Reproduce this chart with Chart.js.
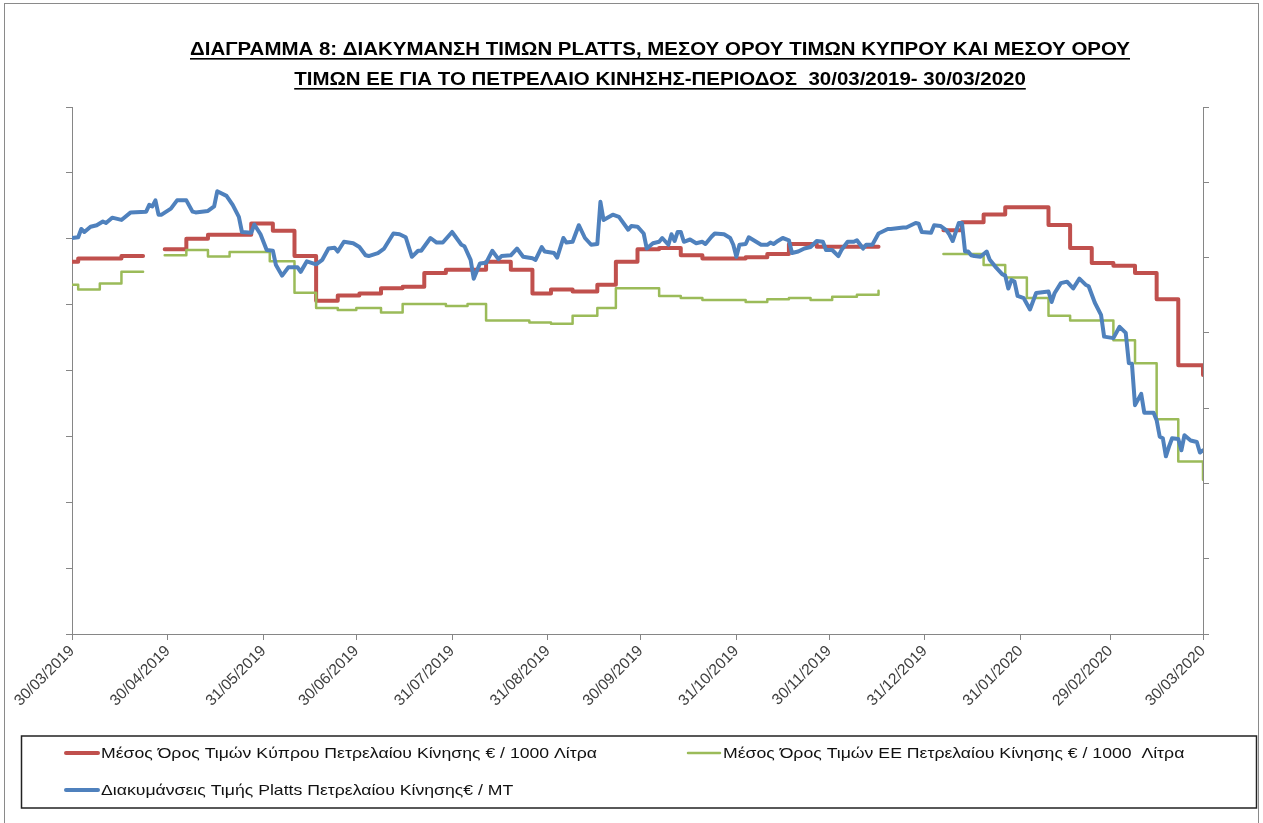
<!DOCTYPE html>
<html>
<head>
<meta charset="utf-8">
<script src="https://cdn.jsdelivr.net/npm/chart.js@4/dist/chart.umd.min.js"></script>
<style>
	html, body { margin: 0; padding: 0; background: #fff; }
	#wrap { width: 1263px; height: 823px; }
</style>
</head>
<body>
<div id="wrap"><canvas id="diagramma" width="1263" height="823"></canvas></div>
<script>
// Τίτλος και υπόμνημα
const titleLines = [
	"ΔΙΑΓΡΑΜΜΑ 8: ΔΙΑΚΥΜΑΝΣΗ ΤΙΜΩΝ PLATTS, ΜΕΣΟΥ ΟΡΟΥ ΤΙΜΩΝ ΚΥΠΡΟΥ ΚΑΙ ΜΕΣΟΥ ΟΡΟΥ",
	"ΤΙΜΩΝ ΕΕ ΓΙΑ ΤΟ ΠΕΤΡΕΛΑΙΟ ΚΙΝΗΣΗΣ-ΠΕΡΙΟΔΟΣ  30/03/2019- 30/03/2020"
];
const seriesLabels = [
	"Μέσος Όρος Τιμών Κύπρου Πετρελαίου Κίνησης € / 1000 Λίτρα",
	"Μέσος Όρος Τιμών ΕΕ Πετρελαίου Κίνησης € / 1000  Λίτρα",
	"Διακυμάνσεις Τιμής Platts Πετρελαίου Κίνησης€ / MT"
];

// Ετικέτες άξονα Χ (ημερομηνίες)
const tickLabels = ["30/03/2019", "30/04/2019", "31/05/2019", "30/06/2019", "31/07/2019", "31/08/2019",
	"30/09/2019", "31/10/2019", "30/11/2019", "31/12/2019", "31/01/2020", "29/02/2020", "30/03/2020"];

// Μέσος όρος Κύπρου (ημέρες από 30/03/2019, τιμή) - null = κενό
const cyprusDay = [0, 2, 16, 23, 24,
	30, 37, 44, 58, 65, 72, 79, 86, 93, 100, 107, 114, 121, 134, 142, 149, 155, 162, 170, 176,
	183, 190, 197, 204, 218, 225, 232, 241, 261, 262,
	282, 288, 295, 302, 316, 323, 330, 337, 344, 351, 358, 364, 366];
const cyprusValue = [565, 570, 574, 574, null,
	584, 600, 606, 623, 612, 574, 506, 514, 517, 525, 527, 548, 553, 565, 553, 517, 523, 520, 530, 565,
	584, 586, 575, 570, 572, 577, 592, 588, 588, null,
	613, 625, 637, 648, 621, 586, 563, 559, 548, 508, 408, 408, 393];

// Μέσος όρος ΕΕ
const euDay = [0, 2, 9, 16, 23, 24,
	30, 37, 44, 51, 64, 72, 79, 86, 92, 100, 107, 121, 128, 134, 148, 155, 162, 170, 176,
	190, 197, 204, 218, 225, 232, 239, 246, 254, 261, 262,
	282, 295, 302, 309, 316, 323, 337, 344, 351, 358, 364, 366];
const euValue = [530, 523, 532, 550, 550, null,
	575, 583, 573, 580, 566, 518, 495, 492, 495, 488, 501, 498, 501, 476, 473, 471, 483, 495, 525,
	513, 510, 507, 504, 508, 510, 507, 512, 515, 521, null,
	577, 560, 541, 510, 483, 476, 446, 411, 326, 262, 262, 234];

// Platts
const plattsDay = [
	0, 2, 3, 4, 6, 8, 10, 11, 13, 16,
	19, 24, 25, 26, 27, 28, 29, 32, 34, 37,
	39, 40, 44, 46, 47, 50, 52, 54, 55, 58,
	59, 61, 63, 65, 66, 68, 70, 73, 74, 76,
	79, 81, 83, 85, 86, 88, 91, 93, 95, 96,
	99, 101, 104, 106, 108, 110, 112, 113, 116, 118,
	120, 123, 126, 127, 129, 130, 132, 134, 136, 138,
	139, 142, 144, 146, 149, 150, 152, 153, 156, 157,
	159, 160, 162, 164, 166, 168, 170, 171, 172, 175,
	177, 180, 181, 183, 185, 186, 188, 190, 191, 193,
	194, 195, 196, 197, 198, 200, 202, 204, 205, 207,
	208, 211, 213, 214, 215, 216, 218, 219, 221, 223,
	225, 226, 227, 228, 230, 232, 233, 235, 237, 239,
	241, 243, 244, 246, 248, 249, 251, 253, 254, 256,
	257, 259, 261, 264, 265, 269, 270, 273, 274, 275,
	278, 279, 281, 283, 284, 285, 287, 288, 289, 290,
	291, 292, 294, 296, 297, 299, 301, 302, 303, 304,
	305, 306, 308, 310, 312, 316, 317, 318, 320, 322,
	324, 326, 328, 329, 331, 333, 334, 337, 339, 341,
	342, 343, 344, 346, 347, 350, 351, 352, 353, 354,
	355, 356, 358, 359, 360, 362, 364, 365, 366];
const plattsValue = [
	526, 527, 538, 534, 541, 543, 548, 546, 553, 550,
	560, 561, 570, 568, 576, 557, 557, 565, 576, 576,
	561, 560, 562, 568, 588, 582, 570, 554, 534, 533,
	544, 531, 510, 509, 490, 476, 487, 487, 481, 495,
	491, 497, 512, 513, 508, 521, 519, 514, 503, 502,
	506, 512, 532, 531, 527, 501, 509, 509, 526, 520,
	520, 534, 517, 515, 497, 472, 492, 493, 509, 498,
	502, 503, 512, 501, 499, 497, 514, 508, 506, 500,
	526, 520, 521, 543, 526, 517, 518, 574, 550, 557,
	554, 537, 542, 541, 532, 512, 519, 521, 526, 517,
	531, 522, 534, 534, 521, 524, 519, 521, 518, 528,
	532, 531, 526, 517, 501, 517, 518, 527, 522, 517,
	517, 520, 518, 521, 526, 523, 506, 508, 512, 514,
	522, 521, 510, 510, 502, 510, 521, 521, 523, 512,
	517, 517, 532, 538, 538, 540, 540, 546, 545, 534,
	533, 543, 542, 536, 530, 522, 546, 546, 508, 508,
	503, 502, 501, 508, 497, 487, 478, 476, 459, 470,
	468, 449, 446, 431, 453, 455, 441, 453, 466, 468,
	459, 472, 464, 462, 440, 424, 395, 393, 408, 400,
	360, 359, 304, 319, 294, 294, 284, 262, 260, 236,
	249, 260, 259, 244, 264, 257, 255, 241, 244];

const axisGrey = "#868686";

// μέρες από την αρχή της περιόδου
function dayOffset(label) {
	const [d, m, y] = label.split("/").map(Number);
	return Math.round((Date.UTC(y, m - 1, d) - Date.UTC(2019, 2, 30)) / 86400000);
}
const tickDays = tickLabels.map(dayOffset);

function toPoints(days, values) {
	return days.map((d, i) => ({ x: d, y: values[i] }));
}

// Σχεδίαση πλαισίου, τίτλου και υπομνήματος
const decorPlugin = {
	id: "decor",
	afterDraw(chart) {
		const ctx = chart.ctx;
		ctx.save();

		// εξωτερικό πλαίσιο
		ctx.strokeStyle = "#8a8a8a";
		ctx.lineWidth = 1;
		ctx.strokeRect(4.5, 3.5, 1254, 840);

		// τίτλος με υπογράμμιση
		ctx.fillStyle = "#000";
		ctx.font = 'bold 18px "Liberation Sans", Arial, sans-serif';
		ctx.textBaseline = "alphabetic";
		const sx = 940 / ctx.measureText(titleLines[0]).width;
		titleLines.forEach((line, i) => {
			const w = ctx.measureText(line).width * sx;
			const x0 = 660 - w / 2;
			const base = 55 + i * 30;
			ctx.save();
			ctx.translate(x0, base);
			ctx.scale(sx, 1);
			ctx.fillText(line, 0, 0);
			ctx.restore();
			ctx.fillRect(x0, base + 3, w, 1.6);
		});

		// υπόμνημα
		ctx.strokeStyle = "#222";
		ctx.lineWidth = 1.5;
		ctx.strokeRect(21.5, 736, 1235, 72);

		const slots = [{ x: 64, y: 753 }, { x: 686, y: 753 }, { x: 64, y: 790 }];
		ctx.font = '15px "Liberation Sans", Arial, sans-serif';
		ctx.textBaseline = "middle";
		const lx = 496 / ctx.measureText(seriesLabels[0]).width;
		chart.data.datasets.forEach((ds, i) => {
			const s = slots[i];
			ctx.strokeStyle = ds.borderColor;
			ctx.lineWidth = ds.borderWidth;
			ctx.lineCap = "round";
			ctx.beginPath();
			ctx.moveTo(s.x + 2, s.y);
			ctx.lineTo(s.x + 34, s.y);
			ctx.stroke();
			ctx.save();
			ctx.translate(s.x + 37, s.y + 1);
			ctx.scale(lx, 1);
			ctx.fillStyle = "#111";
			ctx.fillText(ds.label, 0, 0);
			ctx.restore();
		});
		ctx.restore();
	}
};

const ctx = document.getElementById("diagramma").getContext("2d");
const diagramma = new Chart(ctx, {
	type: "line",
	data: {
		datasets: [
			{
				label: seriesLabels[0],
				data: toPoints(cyprusDay, cyprusValue),
				borderColor: "#C0504D",
				borderWidth: 4,
				stepped: true,
				yAxisID: "y",
				order: 2
			},
			{
				label: seriesLabels[1],
				data: toPoints(euDay, euValue),
				borderColor: "#9BBB59",
				borderWidth: 2.5,
				stepped: true,
				yAxisID: "y",
				order: 1
			},
			{
				label: seriesLabels[2],
				data: toPoints(plattsDay, plattsValue),
				borderColor: "#4F81BD",
				borderWidth: 4,
				tension: 0,
				yAxisID: "y1",
				order: 0
			}
		]
	},
	options: {
		responsive: false,
		animation: false,
		events: [],
		spanGaps: false,
		elements: {
			point: { radius: 0 },
			line: { borderJoinStyle: "round", borderCapStyle: "round", fill: false }
		},
		layout: { padding: { left: 62, right: 50, top: 107, bottom: 89 } },
		plugins: {
			legend: { display: false },
			title: { display: false },
			tooltip: { enabled: false }
		},
		scales: {
			x: {
				type: "linear",
				min: 0,
				max: 366,
				afterBuildTicks: (scale) => {
					scale.ticks = tickDays.map((v) => ({ value: v }));
				},
				afterFit: (scale) => { scale.height = 100; },
				ticks: {
					autoSkip: false,
					maxRotation: 45,
					minRotation: 45,
					padding: 2,
					color: "#404040",
					font: { family: '"Liberation Sans", Arial, sans-serif', size: 15.5 },
					callback: (value) => tickLabels[tickDays.indexOf(value)]
				},
				grid: { drawOnChartArea: false, tickLength: 6, color: axisGrey },
				border: { color: axisGrey }
			},
			y: {
				position: "left",
				min: 0,
				max: 800,
				afterFit: (scale) => { scale.width = 10; },
				ticks: { stepSize: 100, display: false },
				grid: { drawOnChartArea: false, tickLength: 6, color: axisGrey },
				border: { color: axisGrey }
			},
			y1: {
				position: "right",
				min: 0,
				max: 700,
				afterFit: (scale) => { scale.width = 10; },
				ticks: { stepSize: 100, display: false },
				grid: { drawOnChartArea: false, tickLength: 6, color: axisGrey },
				border: { color: axisGrey }
			}
		}
	},
	plugins: [decorPlugin]
});
</script>
</body>
</html>
